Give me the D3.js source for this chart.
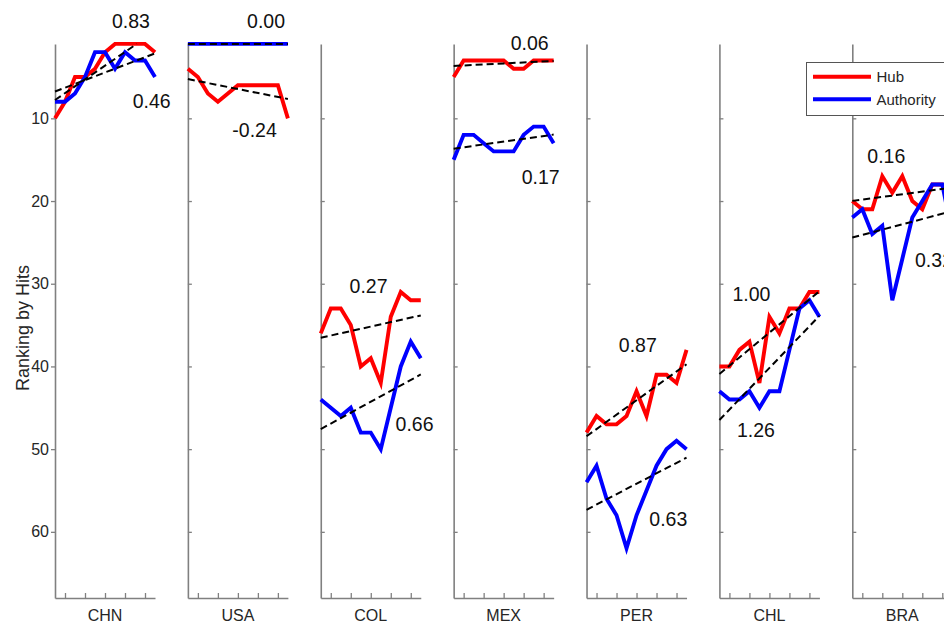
<!DOCTYPE html>
<html>
<head>
<meta charset="utf-8">
<script src="https://cdn.jsdelivr.net/npm/d3@7"></script>
<style>
  body { margin: 0; background: #fff; overflow: hidden; }
  text { font-family: "Liberation Sans", Arial, sans-serif; }
</style>
</head>
<body>
<div id="chart"></div>
<script>
// Data_____________________________________________
const countries = ["CHN", "USA", "COL", "MEX", "PER", "CHL", "BRA"];
const hubRanks = [
  [10, 8, 5, 5, 4, 2, 1, 1, 1, 1, 2],
  [4, 5, 7, 8, 7, 6, 6, 6, 6, 6, 10],
  [36, 33, 33, 35, 40, 39, 42, 34, 31, 32, 32],
  [5, 3, 3, 3, 3, 3, 4, 4, 3, 3, 3],
  [48, 46, 47, 47, 46, 43, 46, 41, 41, 42, 38],
  [40, 40, 38, 37, 42, 34, 36, 33, 33, 31, 31],
  [20, 21, 21, 17, 19, 17, 20, 21, 18, 18, 19]
];
const authRanks = [
  [8, 8, 7, 5, 2, 2, 4, 2, 3, 3, 5],
  [1, 1, 1, 1, 1, 1, 1, 1, 1, 1, 1],
  [44, 45, 46, 45, 48, 48, 50, 45, 40, 37, 39],
  [15, 12, 12, 13, 14, 14, 14, 12, 11, 11, 13],
  [54, 52, 56, 58, 62, 58, 55, 52, 50, 49, 50],
  [43, 44, 44, 43, 45, 43, 43, 38, 33, 32, 34],
  [22, 21, 24, 23, 32, 27, 22, 20, 18, 18, 24]
];
const hubSlopes = ["0.83", "-0.24", "0.27", "0.06", "0.87", "1.00", "0.16"];
const authSlopes = ["0.46", "0.00", "0.66", "0.17", "0.63", "1.26", "0.32"];
const yTicks = [10, 20, 30, 40, 50, 60];
const xTicks = [1, 3, 5, 7, 9];
const seriesNames = ["Hub", "Authority"];

// Layout__________________________________________
const width = 944, height = 623;
const panelW = 100;
const colors = ["#ff0000", "#0000ff"];
const axisGray = "#808080";
// where the slope labels sit, in [year index, rank] units
const hubLabelAt = [[7.6, -0.92], [6.67, 12.2], [4.78, 31.1], [7.6, 1.74], [5.13, 38.2], [3.2, 32.1], [3.4, 15.4]];
const authLabelAt = [[9.67, 8.75], [7.82, -0.92], [9.38, 47.8], [8.7, 17.9], [8.18, 59.3], [3.65, 48.5], [8.17, 28.0]];

const svg = d3.select("#chart")
  .append("svg")
  .attr("width", width)
  .attr("height", height)
  .style("display", "block");

const yScale = d3.scaleLinear().domain([1, 68]).range([43.9, 598]);
const panelX = d3.scalePoint().domain(countries).range([55, 852.3]);
const xScale = d3.scaleLinear().domain([0, 10]).range([0, panelW]);

const line = d3.line()
  .x((d, i) => xScale(i))
  .y(d => yScale(d));

// trend line through the mean, with the labelled slope, clipped to the axis range
function trend(ranks, slopeText) {
  const s = +slopeText;
  const m = d3.mean(ranks);
  const f = i => m - s * (i - 5);
  let i0 = 0, i1 = 10;
  if (s !== 0) {
    const a = 5 + (m - 1) / s, b = 5 + (m - 68) / s;
    i0 = Math.max(0, Math.min(a, b));
    i1 = Math.min(10, Math.max(a, b));
  }
  return [[i0, f(i0)], [i1, f(i1)]];
}

countries.forEach((c, k) => {
  const g = svg.append("g").attr("transform", `translate(${panelX(c)},0)`);

  // Axes_________________________________
  const yAxis = k === 0
    ? d3.axisLeft(yScale).tickValues(yTicks).tickSize(4).tickSizeOuter(0).tickPadding(2)
    : d3.axisRight(yScale).tickValues(yTicks).tickSize(4).tickSizeOuter(0).tickFormat("");
  const ya = g.append("g").call(yAxis);

  const xa = g.append("g")
    .attr("transform", `translate(0,${yScale(68)})`)
    .call(d3.axisTop(xScale).tickValues(xTicks).tickSize(5).tickSizeOuter(0).tickFormat(""));

  [ya, xa].forEach(a => {
    a.select(".domain").attr("stroke", axisGray).attr("stroke-width", 1.6);
    a.selectAll(".tick line").attr("stroke", axisGray).attr("stroke-width", 1.3);
    a.selectAll(".tick text")
      .attr("fill", "#262626")
      .style("font-size", "16px")
      .style("font-family", "'Liberation Sans', Arial, sans-serif");
  });

  g.append("text")
    .attr("x", panelW / 2)
    .attr("y", 621)
    .attr("text-anchor", "middle")
    .attr("fill", "#262626")
    .style("font-size", "16px")
    .text(c);

  // Series lines_________________________
  [hubRanks[k], authRanks[k]].forEach((ranks, s) => {
    g.append("path")
      .datum(ranks)
      .attr("d", line)
      .attr("fill", "none")
      .attr("stroke", colors[s])
      .attr("stroke-width", 3.9);
  });

  // Trend lines__________________________
  [[hubRanks[k], hubSlopes[k]], [authRanks[k], authSlopes[k]]].forEach(([ranks, sl]) => {
    const seg = trend(ranks, sl);
    g.append("line")
      .attr("x1", xScale(seg[0][0])).attr("y1", yScale(seg[0][1]))
      .attr("x2", xScale(seg[1][0])).attr("y2", yScale(seg[1][1]))
      .attr("stroke", "#000")
      .attr("stroke-width", 2)
      .attr("stroke-dasharray", "7,4");
  });

  // Slope labels_________________________
  [[hubLabelAt[k], hubSlopes[k]], [authLabelAt[k], authSlopes[k]]].forEach(([p, t]) => {
    g.append("text")
      .attr("x", xScale(p[0]))
      .attr("y", yScale(p[1]))
      .attr("text-anchor", "middle")
      .attr("fill", "#111")
      .style("font-size", "19.5px")
      .text(t);
  });
});

// Y label________________________________________
svg.append("text")
  .attr("transform", "translate(28.5,328) rotate(-90)")
  .attr("text-anchor", "middle")
  .attr("fill", "#262626")
  .style("font-size", "18px")
  .text("Ranking by Hits");

// Legend_________________________________________
const legend = svg.append("g").attr("transform", "translate(806,62)");
legend.append("rect")
  .attr("x", 0.5).attr("y", 0.5)
  .attr("width", 150).attr("height", 53)
  .attr("fill", "#fff")
  .attr("stroke", "#555")
  .attr("stroke-width", 1);
legend.selectAll("line.key")
  .data(seriesNames)
  .enter()
  .append("line")
  .attr("class", "key")
  .attr("x1", 7).attr("x2", 65)
  .attr("y1", (d, i) => 14.7 + i * 22.6)
  .attr("y2", (d, i) => 14.7 + i * 22.6)
  .attr("stroke", (d, i) => colors[i])
  .attr("stroke-width", 3.9);
legend.selectAll("text")
  .data(seriesNames)
  .enter()
  .append("text")
  .attr("x", 70.5)
  .attr("y", (d, i) => 20.2 + i * 22.6)
  .attr("fill", "#262626")
  .style("font-size", "15px")
  .text(d => d);
</script>
</body>
</html>
